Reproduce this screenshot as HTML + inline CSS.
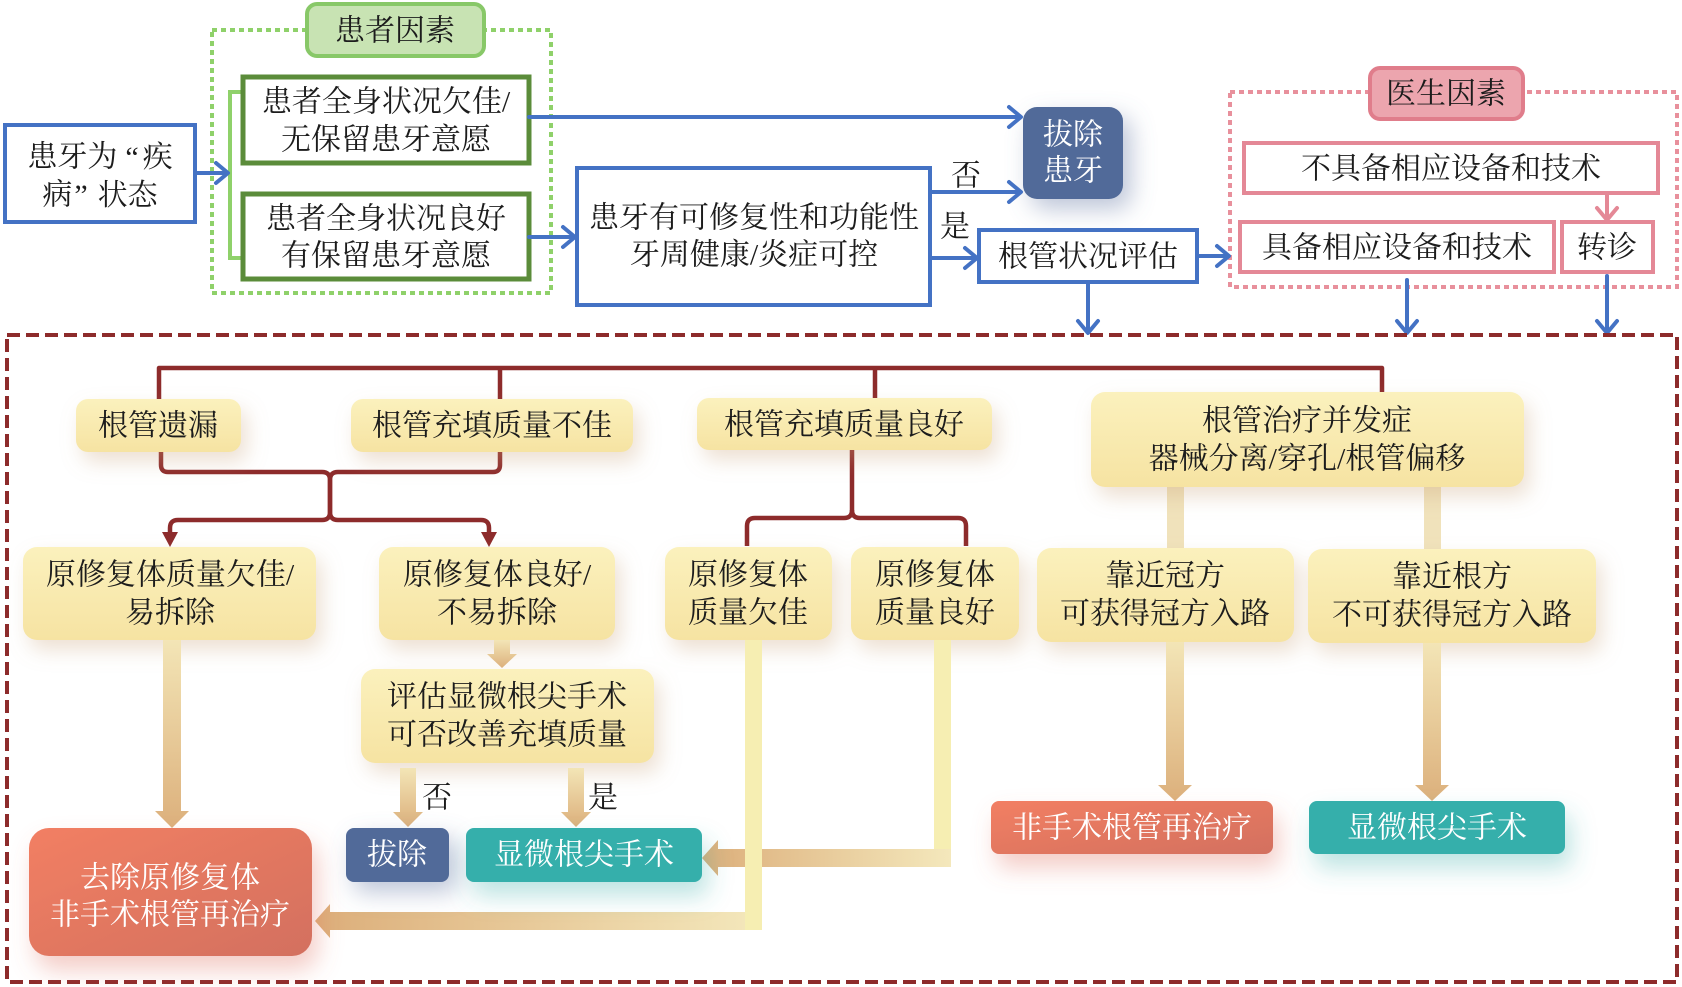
<!DOCTYPE html>
<html><head><meta charset="utf-8"><style>
html,body{margin:0;padding:0;background:#fff;}
svg{display:block;}
text{font-family:"Liberation Serif","Noto Serif CJK SC",serif;font-size:30px;fill:#1c1c1c;}
.w{fill:#fff;}
</style></head><body>
<svg width="1682" height="987" viewBox="0 0 1682 987" xmlns="http://www.w3.org/2000/svg">
<defs>
<linearGradient id="yel" x1="0" y1="0" x2="0" y2="1"><stop offset="0" stop-color="#fbf1bd"/><stop offset="1" stop-color="#f6e3a2"/></linearGradient>
<linearGradient id="tanV" x1="0" y1="0" x2="0" y2="1"><stop offset="0" stop-color="#f3e5b6"/><stop offset="1" stop-color="#dcb07c"/></linearGradient>
<linearGradient id="tanH" x1="1" y1="0" x2="0" y2="0"><stop offset="0" stop-color="#f4e8bc"/><stop offset="1" stop-color="#dcae7a"/></linearGradient>
<linearGradient id="coral" x1="0" y1="0" x2="1" y2="1"><stop offset="0" stop-color="#f27f63"/><stop offset="1" stop-color="#d3705f"/></linearGradient>
<filter id="ysh" x="-30%" y="-50%" width="160%" height="220%"><feDropShadow dx="6" dy="10" stdDeviation="10" flood-color="#c9a07a" flood-opacity="0.33"/></filter>
<filter id="bsh" x="-50%" y="-50%" width="220%" height="220%"><feDropShadow dx="8" dy="10" stdDeviation="12" flood-color="#6b7fa8" flood-opacity="0.45"/></filter>
<filter id="csh" x="-30%" y="-50%" width="160%" height="250%"><feDropShadow dx="6" dy="14" stdDeviation="12" flood-color="#e07060" flood-opacity="0.35"/></filter>
<filter id="tsh" x="-30%" y="-50%" width="160%" height="250%"><feDropShadow dx="6" dy="14" stdDeviation="12" flood-color="#3fb0ac" flood-opacity="0.35"/></filter>
</defs>

<!-- ===== TOP SECTION ===== -->
<rect x="212" y="30" width="339" height="263" fill="none" stroke="#8fd16a" stroke-width="4" stroke-dasharray="5 4"/>
<rect x="307" y="4" width="177" height="52" rx="10" fill="#c8e3b3" stroke="#88c868" stroke-width="4"/>
<text x="395" y="31" text-anchor="middle" dominant-baseline="central">患者因素</text>

<path d="M243 92 H230 V258 H243" fill="none" stroke="#8fd16a" stroke-width="4"/>

<rect x="5" y="125" width="190" height="97" fill="#fff" stroke="#4472c4" stroke-width="4"/>
<text x="100" y="157" text-anchor="middle" dominant-baseline="central">患牙为<tspan dx="8">“</tspan><tspan dx="4">疾</tspan></text>
<text x="100" y="195" text-anchor="middle" dominant-baseline="central">病<tspan dx="2">”</tspan><tspan dx="10">状态</tspan></text>

<rect x="243" y="77" width="286" height="86" fill="#fff" stroke="#5b8c3a" stroke-width="5"/>
<text x="386" y="102" text-anchor="middle" dominant-baseline="central">患者全身状况欠佳/</text>
<text x="386" y="140" text-anchor="middle" dominant-baseline="central">无保留患牙意愿</text>
<rect x="243" y="194" width="286" height="85" fill="#fff" stroke="#5b8c3a" stroke-width="5"/>
<text x="386" y="219" text-anchor="middle" dominant-baseline="central">患者全身状况良好</text>
<text x="386" y="256" text-anchor="middle" dominant-baseline="central">有保留患牙意愿</text>

<rect x="577" y="168" width="353" height="137" fill="#fff" stroke="#4472c4" stroke-width="4"/>
<text x="754" y="218" text-anchor="middle" dominant-baseline="central">患牙有可修复性和功能性</text>
<text x="754" y="255" text-anchor="middle" dominant-baseline="central">牙周健康/炎症可控</text>

<rect x="1023" y="107" width="100" height="92" rx="14" fill="#516a99" filter="url(#bsh)"/>
<text class="w" x="1073" y="135" text-anchor="middle" dominant-baseline="central">拔除</text>
<text class="w" x="1073" y="171" text-anchor="middle" dominant-baseline="central">患牙</text>

<text x="966" y="176" text-anchor="middle" dominant-baseline="central">否</text>
<text x="955" y="227" text-anchor="middle" dominant-baseline="central">是</text>

<rect x="979" y="230" width="218" height="52" fill="#fff" stroke="#4472c4" stroke-width="4"/>
<text x="1088" y="257" text-anchor="middle" dominant-baseline="central">根管状况评估</text>

<rect x="1230" y="92" width="447" height="195" fill="none" stroke="#e8909c" stroke-width="4" stroke-dasharray="5 4"/>
<rect x="1370" y="68" width="153" height="51" rx="10" fill="#eca5ae" stroke="#e07d8b" stroke-width="4"/>
<text x="1446" y="94" text-anchor="middle" dominant-baseline="central">医生因素</text>
<rect x="1244" y="143" width="414" height="50" fill="#fff" stroke="#e48896" stroke-width="4"/>
<text x="1451" y="169" text-anchor="middle" dominant-baseline="central">不具备相应设备和技术</text>
<rect x="1240" y="222" width="314" height="50" fill="#fff" stroke="#e48896" stroke-width="4"/>
<text x="1397" y="248" text-anchor="middle" dominant-baseline="central">具备相应设备和技术</text>
<rect x="1562" y="222" width="91" height="50" fill="#fff" stroke="#e48896" stroke-width="4"/>
<text x="1607" y="248" text-anchor="middle" dominant-baseline="central">转诊</text>
<g fill="none" stroke="#e48896" stroke-width="4" stroke-linecap="round" stroke-linejoin="round">
<path d="M1607 193 V219"/><path d="M1597 208 L1607 220 L1617 208"/>
</g>

<g fill="none" stroke="#4472c4" stroke-width="4" stroke-linecap="round" stroke-linejoin="round">
<path d="M195 173 H227"/><path d="M216 163 L228 173 L216 183"/>
<path d="M529 117 H1020"/><path d="M1009 107 L1021 117 L1009 127"/>
<path d="M529 237 H574"/><path d="M563 227 L575 237 L563 247"/>
<path d="M930 192 H1020"/><path d="M1009 182 L1021 192 L1009 202"/>
<path d="M930 258 H976"/><path d="M965 248 L977 258 L965 268"/>
<path d="M1197 256 H1228"/><path d="M1217 246 L1229 256 L1217 266"/>
<path d="M1088 282 V332"/><path d="M1078 321 L1088 333 L1098 321"/>
<path d="M1407 280 V332"/><path d="M1397 321 L1407 333 L1417 321"/>
<path d="M1607 276 V332"/><path d="M1597 321 L1607 333 L1617 321"/>
</g>

<!-- ===== BOTTOM SECTION ===== -->
<rect x="7" y="335" width="1670" height="647" fill="none" stroke="#8d2b2b" stroke-width="4" stroke-dasharray="13 6"/>

<g fill="none" stroke="#8d2b2b" stroke-width="4.5" stroke-linejoin="round">
<path d="M159 400 V368 H1382 V392"/>
<path d="M500 368 V400"/>
<path d="M875 368 V398"/>
<path d="M161 450 V465 Q161 472 168 472 H322 Q330 472 330 480 V512 Q330 520 322 520 H178 Q170 520 170 528 V534"/>
<path d="M500 450 V465 Q500 472 493 472 H338 Q330 472 330 480 V512 Q330 520 338 520 H481 Q489 520 489 528 V534"/>
<path d="M852 450 V510 Q852 518 844 518 H755 Q747 518 747 526 V546"/>
<path d="M852 510 Q852 518 860 518 H958 Q966 518 966 526 V546"/>
</g>
<polygon points="162,532 178,532 170,547" fill="#8d2b2b"/>
<polygon points="481,532 497,532 489,547" fill="#8d2b2b"/>

<rect x="1167" y="485" width="17" height="65" fill="#f0e2bb"/>
<rect x="1424" y="485" width="17" height="66" fill="#f0e2bb"/>

<g filter="url(#ysh)" fill="url(#yel)">
<rect x="76" y="399" width="165" height="53" rx="12"/>
<rect x="351" y="399" width="282" height="53" rx="12"/>
<rect x="697" y="398" width="295" height="52" rx="12"/>
<rect x="1091" y="392" width="433" height="95" rx="14"/>
<rect x="23" y="547" width="293" height="93" rx="14"/>
<rect x="379" y="547" width="236" height="93" rx="14"/>
<rect x="665" y="547" width="167" height="93" rx="14"/>
<rect x="851" y="547" width="168" height="93" rx="14"/>
<rect x="1037" y="548" width="257" height="94" rx="14"/>
<rect x="1308" y="549" width="288" height="94" rx="14"/>
<rect x="361" y="669" width="293" height="94" rx="14"/>
</g>
<text x="158" y="426" text-anchor="middle" dominant-baseline="central">根管遗漏</text>
<text x="492" y="426" text-anchor="middle" dominant-baseline="central">根管充填质量不佳</text>
<text x="844" y="425" text-anchor="middle" dominant-baseline="central">根管充填质量良好</text>
<text x="1307" y="421" text-anchor="middle" dominant-baseline="central">根管治疗并发症</text>
<text x="1307" y="459" text-anchor="middle" dominant-baseline="central">器械分离/穿孔/根管偏移</text>
<text x="170" y="575" text-anchor="middle" dominant-baseline="central">原修复体质量欠佳/</text>
<text x="170" y="613" text-anchor="middle" dominant-baseline="central">易拆除</text>
<text x="497" y="575" text-anchor="middle" dominant-baseline="central">原修复体良好/</text>
<text x="497" y="613" text-anchor="middle" dominant-baseline="central">不易拆除</text>
<text x="748" y="575" text-anchor="middle" dominant-baseline="central">原修复体</text>
<text x="748" y="613" text-anchor="middle" dominant-baseline="central">质量欠佳</text>
<text x="935" y="575" text-anchor="middle" dominant-baseline="central">原修复体</text>
<text x="935" y="613" text-anchor="middle" dominant-baseline="central">质量良好</text>
<text x="1165" y="576" text-anchor="middle" dominant-baseline="central">靠近冠方</text>
<text x="1165" y="614" text-anchor="middle" dominant-baseline="central">可获得冠方入路</text>
<text x="1452" y="577" text-anchor="middle" dominant-baseline="central">靠近根方</text>
<text x="1452" y="615" text-anchor="middle" dominant-baseline="central">不可获得冠方入路</text>
<text x="507" y="697" text-anchor="middle" dominant-baseline="central">评估显微根尖手术</text>
<text x="507" y="735" text-anchor="middle" dominant-baseline="central">可否改善充填质量</text>

<polygon points="163,640 181,640 181,811 189,811 172,828 155,811 163,811" fill="url(#tanV)"/>
<polygon points="494,640 510,640 510,654 517,654 502,668 487,654 494,654" fill="url(#tanV)"/>
<polygon points="400,768 416,768 416,812 423,812 408,827 393,812 400,812" fill="url(#tanV)"/>
<polygon points="568,768 584,768 584,812 591,812 576,827 561,812 568,812" fill="url(#tanV)"/>
<polygon points="1166,642 1184,642 1184,785 1192,785 1175,801 1158,785 1166,785" fill="url(#tanV)"/>
<polygon points="1423,643 1441,643 1441,785 1449,785 1432,801 1415,785 1423,785" fill="url(#tanV)"/>
<text x="437" y="798" text-anchor="middle" dominant-baseline="central">否</text>
<text x="603" y="798" text-anchor="middle" dominant-baseline="central">是</text>

<rect x="934" y="640" width="17" height="227" fill="#f6eeb2"/>
<polygon points="951,849 951,867 718,867 718,876 702,858 718,840 718,849" fill="url(#tanH)"/>
<polygon points="762,912 762,930 330,930 330,938 315,921 330,904 330,912" fill="url(#tanH)"/>
<rect x="745" y="640" width="17" height="290" fill="#f6eeb2"/>

<rect x="29" y="828" width="283" height="128" rx="20" fill="url(#coral)" filter="url(#csh)"/>
<text class="w" x="170" y="878" text-anchor="middle" dominant-baseline="central">去除原修复体</text>
<text class="w" x="170" y="915" text-anchor="middle" dominant-baseline="central">非手术根管再治疗</text>
<rect x="346" y="828" width="103" height="54" rx="8" fill="#516a99" filter="url(#bsh)"/>
<text class="w" x="397" y="855" text-anchor="middle" dominant-baseline="central">拔除</text>
<rect x="466" y="828" width="236" height="54" rx="8" fill="#34afab" filter="url(#tsh)"/>
<text class="w" x="584" y="855" text-anchor="middle" dominant-baseline="central">显微根尖手术</text>
<rect x="991" y="801" width="282" height="53" rx="8" fill="url(#coral)" filter="url(#csh)"/>
<text class="w" x="1132" y="828" text-anchor="middle" dominant-baseline="central">非手术根管再治疗</text>
<rect x="1309" y="801" width="256" height="53" rx="8" fill="#34afab" filter="url(#tsh)"/>
<text class="w" x="1437" y="828" text-anchor="middle" dominant-baseline="central">显微根尖手术</text>
</svg>
</body></html>
